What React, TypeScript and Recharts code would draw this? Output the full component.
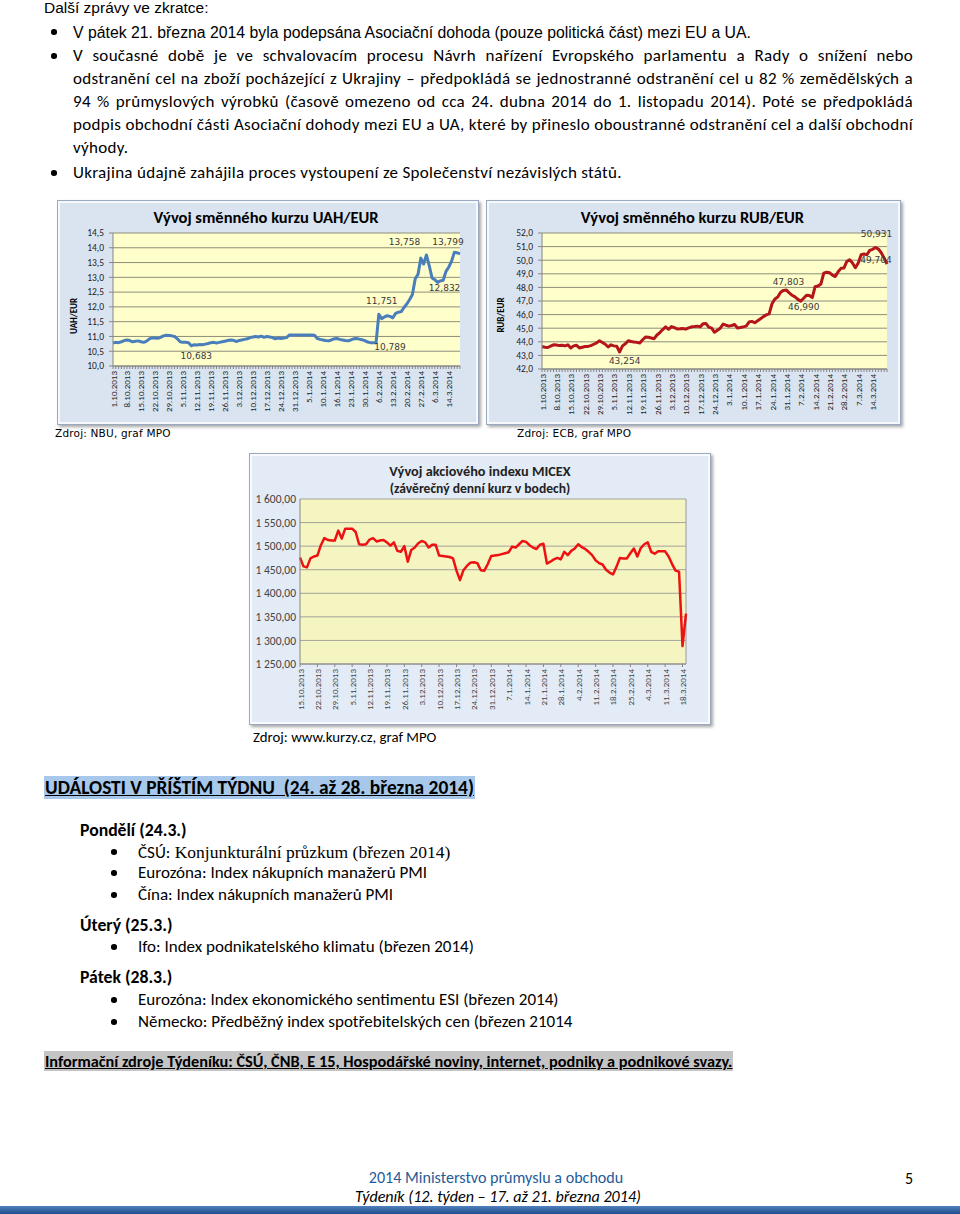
import React from "react";
import { LineChart, Line, XAxis, YAxis, CartesianGrid, ReferenceLine } from "recharts";

// ---------- DATA ----------
const uahTickLabels = ["1.10.2013","8.10.2013","15.10.2013","22.10.2013","29.10.2013","5.11.2013","12.11.2013","19.11.2013","26.11.2013","3.12.2013","10.12.2013","17.12.2013","24.12.2013","31.12.2013","5.1.2014","10.1.2014","16.1.2014","23.1.2014","30.1.2014","6.2.2014","13.2.2014","20.2.2014","27.2.2014","6.3.2014","14.3.2014"];
const uahValues = [
  10.78,10.80,10.79,10.82,10.86,10.88,10.86,10.82,10.84,10.85,
  10.82,10.80,10.84,10.92,10.95,10.95,10.94,10.97,11.02,11.04,
  11.03,11.02,11.00,10.92,10.82,10.80,10.80,10.79,10.683,10.72,
  10.71,10.73,10.72,10.74,10.76,10.79,10.80,10.78,10.80,10.82,
  10.84,10.86,10.88,10.87,10.83,10.86,10.88,10.90,10.92,10.96,
  10.98,11.00,10.98,11.01,10.97,11.00,10.98,10.96,10.92,10.95,
  10.93,10.95,10.96,11.05,11.05,11.05,11.05,11.05,11.05,11.05,
  11.05,11.05,11.04,10.93,10.90,10.88,10.86,10.85,10.88,10.92,
  10.93,10.90,10.88,10.86,10.85,10.88,10.92,10.93,10.91,10.89,
  10.86,10.81,10.79,10.79,10.789,11.751,11.60,11.66,11.70,11.68,
  11.63,11.78,11.82,11.84,11.98,12.10,12.25,12.42,12.95,13.10,
  13.65,13.45,13.758,13.40,12.98,12.92,12.832,12.88,12.90,13.20,
  13.35,13.55,13.85,13.83,13.799
];
const uahYTicks = [10, 10.5, 11, 11.5, 12, 12.5, 13, 13.5, 14, 14.5];

const rubTickLabels = ["1.10.2013","8.10.2013","15.10.2013","22.10.2013","29.10.2013","5.11.2013","12.11.2013","19.11.2013","26.11.2013","3.12.2013","10.12.2013","17.12.2013","24.12.2013","3.1.2014","10.1.2014","17.1.2014","24.1.2014","31.1.2014","7.2.2014","14.2.2014","21.2.2014","28.2.2014","7.3.2014","14.3.2014"];
const rubValues = [
  43.65,43.60,43.58,43.68,43.78,43.76,43.72,43.74,43.70,43.78,
  43.55,43.70,43.74,43.55,43.60,43.65,43.66,43.72,43.82,43.92,
  44.08,43.95,43.82,43.62,43.78,43.70,43.67,43.254,43.70,43.85,
  44.08,44.02,43.98,43.96,43.91,44.15,44.35,44.33,44.28,44.23,
  44.50,44.68,44.90,45.10,44.92,45.12,45.05,44.95,44.96,44.98,
  44.93,45.02,45.10,45.12,45.15,45.10,45.32,45.35,45.08,45.00,
  44.70,44.85,45.00,45.30,45.22,45.15,45.20,45.27,45.02,45.05,
  45.10,45.15,45.45,45.50,45.40,45.55,45.70,45.85,45.98,46.05,
  46.80,47.15,47.30,47.65,47.78,47.803,47.60,47.42,47.30,47.12,
  46.99,47.20,47.42,47.40,47.25,48.05,48.10,48.25,49.05,49.12,
  49.08,48.90,48.80,49.15,49.40,49.42,49.90,50.03,49.80,49.45,
  49.80,50.40,50.45,50.40,50.72,50.80,50.931,50.82,50.55,50.15,
  49.704
];
const rubYTicks = [42, 43, 44, 45, 46, 47, 48, 49, 50, 51, 52];

const micexTickLabels = ["15.10.2013","22.10.2013","29.10.2013","5.11.2013","12.11.2013","19.11.2013","26.11.2013","3.12.2013","10.12.2013","17.12.2013","24.12.2013","31.12.2013","7.1.2014","14.1.2014","21.1.2014","28.1.2014","4.2.2014","11.2.2014","18.2.2014","25.2.2014","4.3.2014","11.3.2014","18.3.2014"];
const micexValues = [
  1476,1457,1455,1474,1478,1480,1502,1517,1513,1512,
  1512,1533,1516,1537,1537,1537,1530,1504,1503,1504,
  1514,1517,1510,1512,1513,1508,1501,1508,1490,1488,
  1500,1467,1492,1497,1506,1511,1508,1497,1503,1503,
  1480,1479,1478,1477,1474,1448,1428,1449,1458,1465,
  1466,1464,1449,1448,1462,1479,1480,1481,1483,1485,
  1487,1499,1497,1504,1511,1509,1502,1497,1494,1503,
  1505,1463,1467,1472,1475,1472,1488,1481,1490,1495,
  1504,1498,1494,1488,1481,1470,1464,1461,1450,1444,
  1440,1456,1475,1474,1474,1485,1495,1478,1496,1504,
  1508,1488,1484,1489,1489,1489,1478,1462,1448,1446,
  1288,1357
];
const micexYTicks = [1250, 1300, 1350, 1400, 1450, 1500, 1550, 1600];

// ---------- LAYOUT / STYLE CONFIG ----------
const CAL = "Carlito, Calibri, Lato, sans-serif";
const ARIAL = "'Liberation Sans', Arial, sans-serif";
const VERD = "'DejaVu Sans', Verdana, sans-serif";
const SERIF = "'Liberation Serif', 'Times New Roman', serif";

const uahLabelOffsets: Record<number, [number, number]> = {
  28: [5, 10], 94: [14, 4], 95: [3, -13], 112: [-22, -13], 116: [7, 6], 124: [-12, -12],
};
const rubLabelOffsets: Record<number, [number, number]> = {
  27: [5, 9], 85: [2, -8], 90: [3, 6], 116: [1, -14], 120: [-11, -4],
};

const fmt1 = (v: number) => v.toFixed(1).replace(".", ",");
const fmt3 = (v: number) => v.toFixed(3).replace(".", ",");
const fmtPts = (v: number) => {
  const [a, b] = v.toFixed(2).split(".");
  return a.replace(/\B(?=(\d{3})+(?!\d))/g, "\u00a0") + "," + b;
};

function XTick(props: any) {
  const { x, y, payload, labels, every, fontSize, fill } = props;
  const i = Math.round(payload.value);
  if (i % every !== 0) return <g />;
  const lab = labels[i / every];
  if (lab === undefined) return <g />;
  return (
    <text x={x} y={y} transform={`rotate(-90 ${x} ${y})`} textAnchor="end" dominantBaseline="central"
      fontSize={fontSize} fontFamily={CAL} fill={fill}>{lab}</text>
  );
}

function makeLabelDot(offsets: Record<number, [number, number]>) {
  return (props: any) => {
    const { cx, cy, index, payload } = props;
    const off = offsets[index];
    if (!off || cx == null) return <g key={`d${index}`} />;
    return (
      <text key={`d${index}`} x={cx + off[0]} y={cy + off[1]} textAnchor="middle" dominantBaseline="central"
        fontSize={9} fontFamily={VERD} fill="#3a3a3a">{fmt3(payload.v)}</text>
    );
  };
}

type SeriesProps = {
  values: number[]; labels: string[]; every: number; minor: boolean;
  yTicks: number[]; yFmt: (v: number) => string;
  width: number; height: number; margin: any; yWidth: number; xHeight: number;
  plotFill: string; grid: string; color: string; lw: number; dot: any;
  yFont: number; xFont: number; tickFill: string; yTickLine: boolean; rightBorder?: boolean;
};

function SeriesChart(p: SeriesProps) {
  const data = p.values.map((v, i) => ({ i, v }));
  const n = p.values.length;
  const xTicks = p.minor ? data.map((d) => d.i) : data.filter((d) => d.i % p.every === 0).map((d) => d.i);
  return (
    <LineChart width={p.width} height={p.height} data={data} margin={p.margin}>
      <CartesianGrid vertical={false} stroke={p.grid} fill={p.plotFill} fillOpacity={1} />
      <XAxis dataKey="i" type="number" domain={[0, n - 1]} ticks={xTicks} interval={0} height={p.xHeight}
        tickSize={3} tickMargin={2} axisLine={{ stroke: "#868686" }} tickLine={{ stroke: "#868686" }}
        tick={(tp: any) => <XTick x={tp.x} y={tp.y} payload={tp.payload} labels={p.labels} every={p.every} fontSize={p.xFont} fill={p.tickFill} />} />
      <YAxis type="number" domain={[p.yTicks[0], p.yTicks[p.yTicks.length - 1]]} ticks={p.yTicks} interval={0}
        width={p.yWidth} tickFormatter={p.yFmt} tickSize={p.yTickLine ? 4 : 0} tickMargin={p.yTickLine ? 5 : 4}
        axisLine={{ stroke: "#868686" }} tickLine={p.yTickLine ? { stroke: "#868686" } : false}
        tick={{ fontSize: p.yFont, fill: p.tickFill, fontFamily: CAL }} />
      {p.rightBorder ? <ReferenceLine x={n - 1} stroke="#9a9a9a" /> : null}
      <Line dataKey="v" type="linear" stroke={p.color} strokeWidth={p.lw} dot={p.dot} activeDot={false}
        isAnimationActive={false} strokeLinejoin="round" />
    </LineChart>
  );
}

function Box(props: { left: number; top: number; width: number; height: number; bg: string; children: any }) {
  return (
    <div style={{
      position: "absolute", left: props.left, top: props.top, width: props.width, height: props.height,
      boxSizing: "border-box", border: "1px solid #98a9c0", background: props.bg,
      boxShadow: "inset 0 0 0 2px rgba(255,255,255,0.75), 2px 2px 3px rgba(0,0,0,0.35)",
    }}>
      <div style={{ position: "absolute", left: -1, top: -1 }}>{props.children}</div>
    </div>
  );
}

function T(props: { x: number; y: number; size: number; font?: string; weight?: any; style?: any; children: any; lh?: number; ls?: number }) {
  const lh = props.lh ?? Math.round(props.size * 1.3);
  return (
    <div style={{
      position: "absolute", left: props.x, top: props.y - lh / 2, lineHeight: `${lh}px`, height: lh,
      fontSize: props.size, fontFamily: props.font ?? CAL, fontWeight: props.weight ?? "normal",
      letterSpacing: props.ls ?? 0, whiteSpace: "pre", color: "#000", ...props.style,
    }}>{props.children}</div>
  );
}

function J(props: { x: number; y: number; w: number; size: number; ls: number; children: any }) {
  const lh = 22;
  return (
    <div style={{
      position: "absolute", left: props.x, top: props.y - lh / 2, width: props.w, lineHeight: `${lh}px`, height: lh,
      fontSize: props.size, fontFamily: CAL, letterSpacing: props.ls, textAlign: "justify", textAlignLast: "justify", color: "#000",
    }}>{props.children}</div>
  );
}

function Bullet(props: { x: number; y: number; r?: number }) {
  const r = props.r ?? 2.8;
  return <div style={{ position: "absolute", left: props.x - r, top: props.y - r, width: 2 * r, height: 2 * r, borderRadius: "50%", background: "#000" }} />;
}

const BODY = 17;
const BODY_LS = 0.3;
const LIST = 17;

export default function App() {
  return (
    <div style={{ position: "absolute", left: 0, top: 0, width: 960, height: 1214, background: "#fff", overflow: "hidden" }}>
      {/* Intro text */}
      <T x={44} y={8} size={15.5} font={ARIAL}>Další zprávy ve zkratce:</T>
      <Bullet x={54} y={32} />
      <T x={73} y={32} size={15.8} font={ARIAL}>V pátek 21. března 2014 byla podepsána Asociační dohoda (pouze politická část) mezi EU a UA.</T>
      <Bullet x={54} y={56} />
      <J x={73} y={56} w={840} size={BODY} ls={BODY_LS}>V současné době je ve schvalovacím procesu Návrh nařízení Evropského parlamentu a Rady o snížení nebo</J>
      <J x={73} y={79} w={840} size={BODY} ls={BODY_LS}>odstranění cel na zboží pocházející z Ukrajiny – předpokládá se jednostranné odstranění cel u 82 % zemědělských a</J>
      <J x={73} y={102} w={840} size={BODY} ls={BODY_LS}>94 % průmyslových výrobků (časově omezeno od cca 24. dubna 2014 do 1. listopadu 2014). Poté se předpokládá</J>
      <J x={73} y={125} w={840} size={BODY} ls={BODY_LS}>podpis obchodní části Asociační dohody mezi EU a UA, které by přineslo oboustranné odstranění cel a další obchodní</J>
      <T x={73} y={148} size={BODY} ls={BODY_LS}>výhody.</T>
      <Bullet x={54} y={173} />
      <T x={73} y={173} size={BODY} ls={BODY_LS}>Ukrajina údajně zahájila proces vystoupení ze Společenství nezávislých států.</T>

      {/* UAH chart */}
      <Box left={57} top={200} width={422} height={225} bg="#dae4f1">
        <SeriesChart values={uahValues} labels={uahTickLabels} every={5} minor={true}
          yTicks={uahYTicks} yFmt={fmt1} width={422} height={225}
          margin={{ top: 33, right: 19, left: 0, bottom: 0 }} yWidth={56} xHeight={59}
          plotFill="#ffffcc" grid="#8e8e7a" color="#4a7ebb" lw={3} dot={makeLabelDot(uahLabelOffsets)}
          yFont={9.5} xFont={9} tickFill="#222" yTickLine={true} />
        <div style={{ position: "absolute", left: 0, top: 7, width: 418, textAlign: "center", fontFamily: CAL, fontWeight: "bold", fontSize: 16.5 }}>Vývoj směnného kurzu UAH/EUR</div>
        <div style={{ position: "absolute", left: 16, top: 116, transform: "translate(-50%,-50%) rotate(-90deg)", fontFamily: CAL, fontWeight: "bold", fontSize: 9, whiteSpace: "nowrap" }}>UAH/EUR</div>
      </Box>
      <T x={55} y={433} size={10.5} font={VERD} ls={0.2}>Zdroj: NBU, graf MPO</T>

      {/* RUB chart */}
      <Box left={486} top={200} width={415} height={225} bg="#dae4f1">
        <SeriesChart values={rubValues} labels={rubTickLabels} every={5} minor={true}
          yTicks={rubYTicks} yFmt={fmt1} width={415} height={225}
          margin={{ top: 33, right: 14, left: 0, bottom: 0 }} yWidth={56} xHeight={56}
          plotFill="#ffffcc" grid="#8e8e7a" color="#b3151b" lw={3} dot={makeLabelDot(rubLabelOffsets)}
          yFont={9.5} xFont={9} tickFill="#222" yTickLine={true} />
        <div style={{ position: "absolute", left: 0, top: 7, width: 413, textAlign: "center", fontFamily: CAL, fontWeight: "bold", fontSize: 16.5 }}>Vývoj směnného kurzu RUB/EUR</div>
        <div style={{ position: "absolute", left: 14, top: 115, transform: "translate(-50%,-50%) rotate(-90deg)", fontFamily: CAL, fontWeight: "bold", fontSize: 9, whiteSpace: "nowrap" }}>RUB/EUR</div>
      </Box>
      <T x={517} y={433} size={10.5} font={VERD} ls={0.2}>Zdroj: ECB, graf MPO</T>

      {/* MICEX chart */}
      <Box left={249} top={453} width={462} height={272} bg="#e3ebf6">
        <SeriesChart values={micexValues} labels={micexTickLabels} every={5} minor={false}
          yTicks={micexYTicks} yFmt={fmtPts} width={462} height={272}
          margin={{ top: 46, right: 25, left: 0, bottom: 0 }} yWidth={51} xHeight={61}
          plotFill="#f5f5c2" grid="#a3a39a" color="#ee1111" lw={2.5} dot={false}
          yFont={11.5} xFont={9} tickFill="#444" yTickLine={false} rightBorder={true} />
        <div style={{ position: "absolute", left: 0, top: 9, width: 462, textAlign: "center", fontFamily: CAL, fontWeight: "bold", fontSize: 14.3, lineHeight: "18px", color: "#222" }}>Vývoj akciového indexu MICEX</div>
        <div style={{ position: "absolute", left: 0, top: 27, width: 462, textAlign: "center", fontFamily: CAL, fontWeight: "bold", fontSize: 13.6, lineHeight: "17px", color: "#222" }}>(závěrečný denní kurz v bodech)</div>
      </Box>
      <T x={253} y={737} size={14.8}>Zdroj: www.kurzy.cz, graf MPO</T>

      {/* Events */}
      <div style={{ position: "absolute", left: 44, top: 776, height: 23, lineHeight: "23px", padding: "0 1px", background: "#a7c8ea", fontFamily: CAL, fontWeight: "bold", fontSize: 19.4, textDecoration: "underline", whiteSpace: "pre" }}>UDÁLOSTI V PŘÍŠTÍM TÝDNU  (24. až 28. března 2014)</div>

      <T x={80} y={830} size={17.7} weight="bold">Pondělí (24.3.)</T>
      <Bullet x={114} y={852} />
      <T x={138} y={852} size={LIST}>ČSÚ:<span style={{ fontFamily: SERIF, fontSize: 17.5 }}> Konjunkturální průzkum (březen 2014)</span></T>
      <Bullet x={114} y={873} />
      <T x={138} y={873} size={LIST}>Eurozóna: Index nákupních manažerů PMI</T>
      <Bullet x={114} y={895} />
      <T x={138} y={895} size={LIST}>Čína: Index nákupních manažerů PMI</T>

      <T x={80} y={925} size={17.7} weight="bold">Úterý (25.3.)</T>
      <Bullet x={114} y={947} />
      <T x={138} y={947} size={LIST}>Ifo: Index podnikatelského klimatu (březen 2014)</T>

      <T x={80} y={977} size={17.7} weight="bold">Pátek (28.3.)</T>
      <Bullet x={114} y={1000} />
      <T x={138} y={1000} size={LIST}>Eurozóna: Index ekonomického sentimentu ESI (březen 2014)</T>
      <Bullet x={114} y={1022} />
      <T x={138} y={1022} size={LIST}>Německo: Předběžný index spotřebitelských cen (březen 21014</T>

      <div style={{ position: "absolute", left: 44, top: 1051, height: 20, lineHeight: "20px", padding: "0 1px", background: "#c4c4c4", fontFamily: CAL, fontWeight: "bold", fontSize: 16.3, textDecoration: "underline", whiteSpace: "pre" }}>Informační zdroje Týdeníku: ČSÚ, ČNB, E 15, Hospodářské noviny, internet, podniky a podnikové svazy.</div>

      {/* Footer */}
      <div style={{ position: "absolute", left: 300, top: 1167, width: 392, textAlign: "center", fontFamily: CAL, fontSize: 16.1, lineHeight: "21px", color: "#1f5b99" }}>2014 Ministerstvo průmyslu a obchodu</div>
      <T x={905} y={1178} size={16}>5</T>
      <div style={{ position: "absolute", left: 300, top: 1186, width: 396, textAlign: "center", fontFamily: CAL, fontSize: 16.1, lineHeight: "21px", fontStyle: "italic" }}>Týdeník (12. týden – 17. až 21. března 2014)</div>
      <div style={{ position: "absolute", left: 0, top: 1206, width: 960, height: 8, background: "linear-gradient(#4f81bd, #1f4e8c)" }} />
    </div>
  );
}
